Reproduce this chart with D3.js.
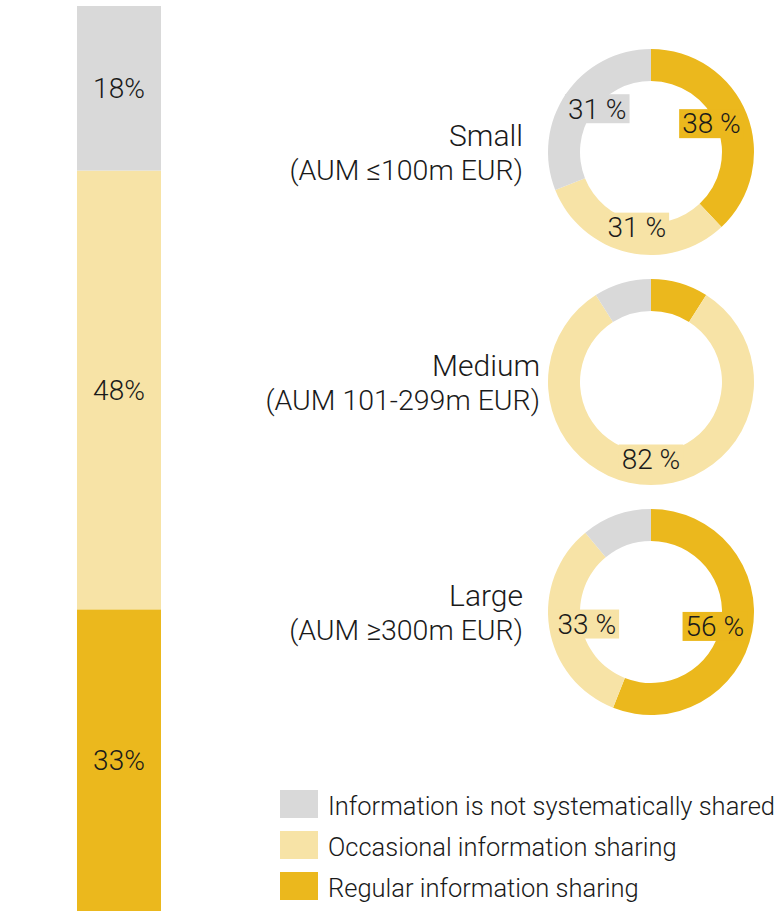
<!DOCTYPE html>
<html lang="en">
<head>
  <meta charset="UTF-8">
  <title>Information sharing by fund size</title>
  <style>
    body { margin: 0; background: #fff; }
    svg { display: block; font-family: Roboto, "Liberation Sans", sans-serif; font-weight: 300; }
  </style>
  <script src="https://d3js.org/d3.v7.min.js"></script>
</head>
<body>
  <svg width="777" height="911"></svg>
  <script>
    // categories, bottom-to-top in the bar, clockwise in the donuts
    const categories = ["Regular information sharing", "Occasional information sharing", "Information is not systematically shared"];
    const colors = ["#ebb81d", "#f7e3a6", "#d9d9d9"];

    // overall stacked bar
    const totalValues = [33, 48, 18];

    // donuts by size
    const sizeNames = ["Small", "Medium", "Large"];
    const sizeSubtitles = ["(AUM \u2264100m EUR)", "(AUM 101-299m EUR)", "(AUM \u2265300m EUR)"];
    const regularBySize = [38, 9, 56];
    const occasionalBySize = [31, 82, 33];
    const notSharedBySize = [31, 9, 11];

    // legend order (top to bottom)
    const legendOrder = [2, 1, 0];

    const svg = d3.select("svg");
    const ink = "#1a1a1a";

    // ---- stacked bar ----
    const barX = 77, barW = 84;
    const y = d3.scaleLinear().domain([0, d3.sum(totalValues)]).range([911, 6]);
    let acc = 0;
    const stacks = totalValues.map((v, i) => {
      const s = { i, v, y0: acc, y1: acc + v };
      acc += v;
      return s;
    });

    const bar = svg.append("g");
    bar.selectAll("rect")
      .data(stacks)
      .enter().append("rect")
      .attr("x", barX)
      .attr("width", barW)
      .attr("y", d => y(d.y1))
      .attr("height", d => y(d.y0) - y(d.y1))
      .attr("fill", d => colors[d.i]);

    bar.selectAll("text")
      .data(stacks)
      .enter().append("text")
      .attr("x", barX + barW / 2)
      .attr("y", d => (y(d.y0) + y(d.y1)) / 2)
      .attr("dy", "0.35em")
      .attr("text-anchor", "middle")
      .attr("font-size", 28)
      .attr("fill", ink)
      .text(d => d.v + "%");

    // ---- donuts ----
    const cx = 651;
    const centers = d3.scalePoint().domain(sizeNames).range([152, 612]);
    const outerR = 103, innerR = 71;
    const labelRx = 65, labelRy = 77;
    const arc = d3.arc().innerRadius(innerR).outerRadius(outerR);
    const pie = d3.pie().sort(null).value(d => d.v);
    const nameRight = [523, 540, 523];

    sizeNames.forEach((name, k) => {
      const cy = centers(name);
      const vals = [regularBySize[k], occasionalBySize[k], notSharedBySize[k]]
        .map((v, i) => ({ v, i }));
      const arcs = pie(vals);

      const g = svg.append("g").attr("transform", `translate(${cx},${cy})`);
      g.selectAll("path")
        .data(arcs)
        .enter().append("path")
        .attr("d", arc)
        .attr("fill", d => colors[d.data.i]);

      const labels = g.selectAll("g.lab")
        .data(arcs.filter(d => d.data.v >= 15))
        .enter().append("g")
        .attr("class", "lab")
        .attr("transform", d => {
          const a = (d.startAngle + d.endAngle) / 2;
          return `translate(${labelRx * Math.sin(a)},${-labelRy * Math.cos(a)})`;
        });

      labels.append("rect").attr("fill", d => colors[d.data.i]);
      labels.append("text")
        .attr("text-anchor", "middle")
        .attr("dy", "0.35em")
        .attr("font-size", 28)
        .attr("fill", ink)
        .text(d => d.data.v + " %");
      labels.each(function() {
        const t = d3.select(this).select("text").node().getBBox();
        d3.select(this).select("rect")
          .attr("x", t.x - 3).attr("y", -14.5)
          .attr("width", t.width + 6).attr("height", 29);
      });

      svg.append("text")
        .attr("x", nameRight[k]).attr("y", cy - 6)
        .attr("text-anchor", "end")
        .attr("font-size", 30)
        .attr("fill", ink)
        .text(name);
      svg.append("text")
        .attr("x", nameRight[k]).attr("y", cy + 28)
        .attr("text-anchor", "end")
        .attr("font-size", 28.5)
        .attr("fill", ink)
        .text(sizeSubtitles[k]);
    });

    // ---- legend ----
    const legend = svg.append("g").attr("transform", "translate(280,790)");
    const ly = d3.scaleBand().domain(legendOrder).range([0, 123]).paddingInner(0);
    const items = legend.selectAll("g")
      .data(legendOrder)
      .enter().append("g")
      .attr("transform", d => `translate(0,${ly(d)})`);
    items.append("rect")
      .attr("width", 38).attr("height", 28)
      .attr("fill", d => colors[d]);
    items.append("text")
      .attr("x", 48).attr("y", 25)
      .attr("font-size", 25.5)
      .attr("fill", ink)
      .text(d => categories[d]);
  </script>
</body>
</html>
